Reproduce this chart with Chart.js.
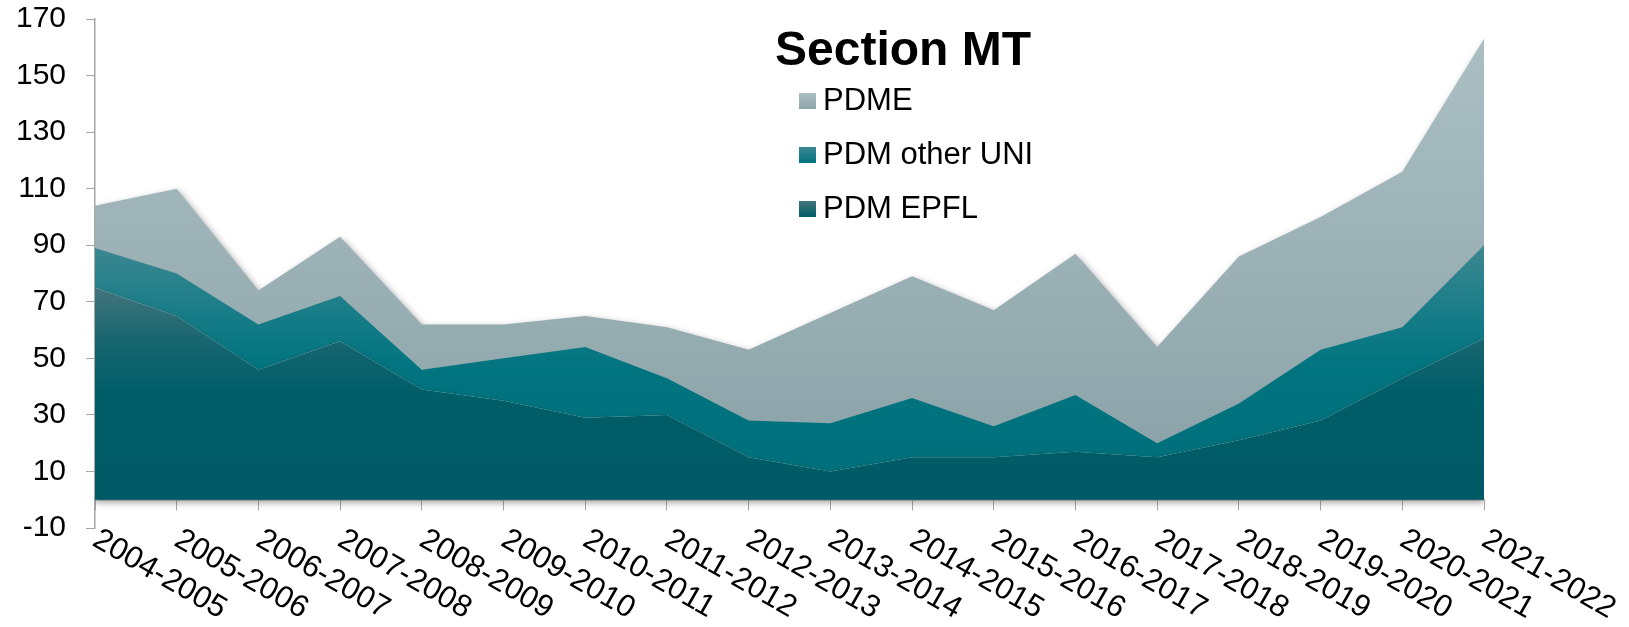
<!DOCTYPE html>
<html>
<head>
<meta charset="utf-8">
<title>Section MT</title>
<script src="https://cdn.jsdelivr.net/npm/chart.js@4.4.1/dist/chart.umd.min.js"></script>
<style>
  html, body { margin: 0; padding: 0; background: #ffffff; }
  #wrap { position: relative; width: 1629px; height: 627px; }
</style>
</head>
<body>
<div id="wrap"><canvas id="sectionChart"></canvas></div>
<script>
const years = [
  "2004-2005", "2005-2006", "2006-2007", "2007-2008", "2008-2009", "2009-2010",
  "2010-2011", "2011-2012", "2012-2013", "2013-2014", "2014-2015", "2015-2016",
  "2016-2017", "2017-2018", "2018-2019", "2019-2020", "2020-2021", "2021-2022",
];

// students per year, stacked from the bottom up
const pdmEpfl = [75, 65, 46, 56, 39, 35, 29, 30, 15, 10, 15, 15, 17, 15, 21, 28, 43, 57];
const pdmOtherUni = [14, 15, 16, 16, 7, 15, 25, 13, 13, 17, 21, 11, 20, 5, 13, 25, 18, 33];
const pdme = [15, 30, 12, 21, 16, 12, 11, 18, 25, 39, 43, 41, 50, 34, 52, 47, 55, 73];

const seriesNames = ["PDM EPFL", "PDM other UNI", "PDME"];
const chartTitle = "Section MT";

const yMin = -10;
const yMax = 170;
const yStep = 20;

const FONT = '"Liberation Sans", Arial, Helvetica, sans-serif';
const AXIS_GREY = "#a6a6a6";

// gradient stops as [value, colour], top to bottom
const fills = [
  [[75, "#42747c"], [55, "#16656f"], [38, "#005e69"], [0, "#005a65"]],
  [[90, "#3c8791"], [62, "#127b86"], [46, "#00747f"], [0, "#006f7a"]],
  [[163, "#abbfc3"], [90, "#9cb2b7"], [20, "#8ca4a9"]],
];

const shadows = {
  2: { color: "rgba(0,0,0,0.4)", blur: 7, x: 2, y: 3 },
  0: { color: "rgba(0,0,0,0.35)", blur: 6, x: 0, y: 3 },
};

function verticalGradient(chart, stops) {
  const { ctx, chartArea, scales } = chart;
  if (!chartArea || !scales.y) return stops[stops.length - 1][1];
  const top = scales.y.getPixelForValue(stops[0][0]);
  const bottom = scales.y.getPixelForValue(stops[stops.length - 1][0]);
  const gradient = ctx.createLinearGradient(0, top, 0, bottom);
  stops.forEach(([value, colour]) => {
    const offset = (scales.y.getPixelForValue(value) - top) / (bottom - top);
    gradient.addColorStop(Math.min(1, Math.max(0, offset)), colour);
  });
  return gradient;
}

function applyShadow(ctx, shadow) {
  if (!shadow) {
    ctx.shadowColor = "rgba(0,0,0,0)";
    ctx.shadowBlur = 0;
    ctx.shadowOffsetX = 0;
    ctx.shadowOffsetY = 0;
    return;
  }
  ctx.shadowColor = shadow.color;
  ctx.shadowBlur = shadow.blur;
  ctx.shadowOffsetX = shadow.x;
  ctx.shadowOffsetY = shadow.y;
}

// datasets are painted from the last index down, so set the shadow one step ahead
const areaShadow = {
  id: "areaShadow",
  beforeDatasetsDraw(chart) {
    chart.ctx.save();
    applyShadow(chart.ctx, shadows[chart.data.datasets.length - 1]);
  },
  afterDatasetDraw(chart, args) {
    applyShadow(chart.ctx, shadows[args.index - 1]);
  },
  afterDatasetsDraw(chart) {
    chart.ctx.restore();
  },
};

// category labels slanting down to the right from each tick
const slantedLabels = {
  id: "slantedLabels",
  afterDraw(chart) {
    const { ctx, scales } = chart;
    const bottom = scales.y.getPixelForValue(yMin);
    ctx.save();
    ctx.font = `31px ${FONT}`;
    ctx.fillStyle = "#000000";
    ctx.textAlign = "left";
    ctx.textBaseline = "top";
    years.forEach((label, i) => {
      const px = scales.x.getPixelForTick(i);
      ctx.save();
      ctx.translate(px + 8, bottom - 4);
      ctx.rotate(Math.PI / 6);
      ctx.fillText(label, 0, 0);
      ctx.restore();
    });
    ctx.restore();
  },
};

// title + key, placed inside the plot
const sectionLegend = {
  id: "sectionLegend",
  afterDraw(chart) {
    const { ctx } = chart;
    ctx.save();
    ctx.fillStyle = "#000000";
    ctx.textAlign = "left";
    ctx.textBaseline = "alphabetic";
    ctx.font = `bold 48px ${FONT}`;
    ctx.fillText(chartTitle, 775, 65);

    ctx.font = `31px ${FONT}`;
    const order = chart.data.datasets.map((ds, i) => i).reverse();
    order.forEach((dsIndex, row) => {
      const baseline = 110 + row * 54;
      const stops = fills[dsIndex];
      const swatch = ctx.createLinearGradient(0, baseline - 17, 0, baseline - 1);
      swatch.addColorStop(0, stops[0][1]);
      swatch.addColorStop(1, stops[Math.min(2, stops.length - 1)][1]);
      ctx.fillStyle = swatch;
      ctx.fillRect(799, baseline - 17, 17, 16);
      ctx.fillStyle = "#000000";
      ctx.fillText(chart.data.datasets[dsIndex].label, 823, baseline);
    });
    ctx.restore();
  },
};

const seriesValues = [pdmEpfl, pdmOtherUni, pdme];

const datasets = seriesValues.map((values, i) => ({
  label: seriesNames[i],
  data: values,
  fill: i === 0 ? "origin" : "-1",
  backgroundColor: (context) => verticalGradient(context.chart, fills[i]),
  borderWidth: 0,
  pointRadius: 0,
  pointHoverRadius: 0,
  tension: 0,
}));

Chart.defaults.font.family = FONT;

new Chart(document.querySelector("#sectionChart"), {
  type: "line",
  data: { labels: years, datasets },
  options: {
    responsive: true,
    maintainAspectRatio: false,
    animation: false,
    events: [],
    layout: { padding: { top: 19, right: 145, bottom: 99, left: 0 } },
    plugins: {
      legend: { display: false },
      tooltip: { enabled: false },
      filler: { propagate: false },
    },
    scales: {
      x: {
        type: "category",
        position: { y: 0 },
        offset: false,
        grid: {
          display: true,
          drawOnChartArea: false,
          drawTicks: true,
          tickLength: 10,
          color: AXIS_GREY,
        },
        border: { display: true, color: AXIS_GREY, width: 1.5 },
        ticks: { display: false },
        afterFit: (scale) => { scale.height = 0; },
      },
      y: {
        stacked: true,
        min: yMin,
        max: yMax,
        afterFit: (scale) => {
          scale.width = 95;
          scale.paddingTop = 0;
          scale.paddingBottom = 0;
        },
        grid: {
          display: true,
          drawOnChartArea: false,
          drawTicks: true,
          tickLength: 9,
          color: AXIS_GREY,
        },
        border: { display: true, color: AXIS_GREY, width: 1.5 },
        ticks: {
          stepSize: yStep,
          padding: 20,
          color: "#000000",
          font: { size: 30 },
        },
      },
    },
  },
  plugins: [areaShadow, slantedLabels, sectionLegend],
});
</script>
</body>
</html>
